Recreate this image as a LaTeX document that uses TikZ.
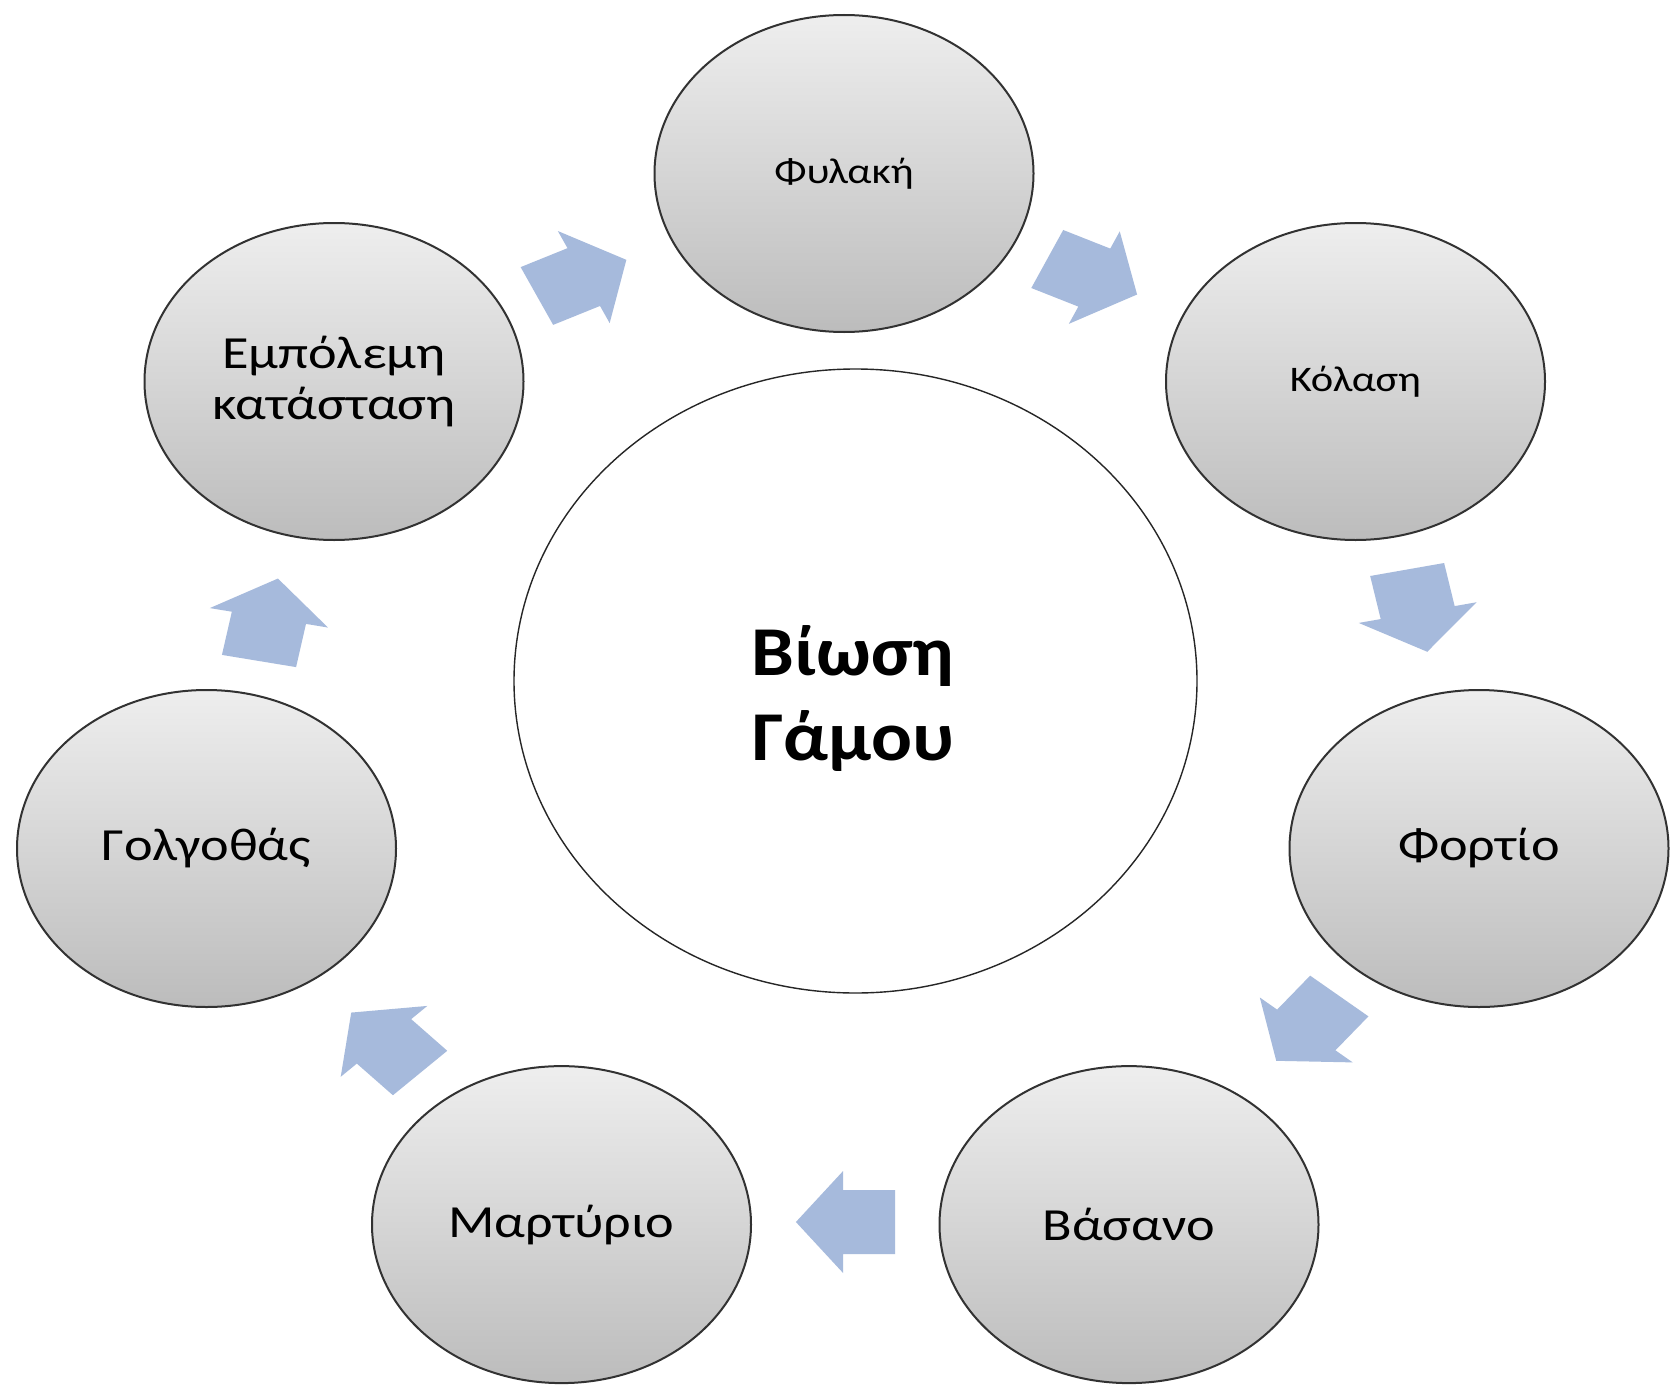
\documentclass[tikz,border=0pt]{standalone}
\usepackage{fontspec}
\setmainfont{Carlito}
\newfontfamily\lblfont[FakeStretch=1.18]{Carlito}
\newfontfamily\ctrfont[FakeStretch=1.09]{Carlito}
\usetikzlibrary{shapes.geometric}
\definecolor{arrowblue}{RGB}{166,186,220}
\definecolor{ringline}{RGB}{50,50,50}
\definecolor{gtop}{RGB}{238,238,238}
\definecolor{gbot}{RGB}{188,188,188}
\begin{document}
\begin{tikzpicture}[x=0.5pt,y=-0.5pt,
  ball/.style={ellipse, draw=ringline, line width=1pt, top color=gtop, bottom color=gbot,
    minimum width=189.5pt, minimum height=158.5pt, inner sep=0pt, align=center,
    font=\lblfont\fontsize{23}{25.5}\selectfont},
  smallball/.style={ball, font=\lblfont\fontsize{18}{21}\selectfont},
  hub/.style={ellipse, draw=black!85, line width=0.7pt, fill=white,
    minimum width=341.5pt, minimum height=312pt, inner sep=0pt},
  hubtext/.style={inner sep=0pt, align=center,
    font=\ctrfont\bfseries\fontsize{35}{42.5}\selectfont},
  blockarrow/.style={fill=arrowblue}]
\fill[white] (0,0) rectangle (1670,1386);
\useasboundingbox (0,0) rectangle (1670,1386);

% block arrows (drawn in unstretched frame, then stretched horizontally)
\begin{scope}[xscale=1.18]
  \foreach \bx/\by/\ang in {455/296/25.5, 887.5/259/-25, 1192.5/569.5/-78.3,
      1135/996/-129.5, 758.5/1222/-180, 356/1073/-226, 219.5/661/79}{
    \fill[blockarrow, shift={(\bx,\by)}, rotate=\ang]
      (0,-32) -- (44,-32) -- (44,-51) -- (84,0) -- (44,51) -- (44,32) -- (0,32) -- cycle;
  }
\end{scope}

\node[hub] (hub) at (855.5,681) {};
\node[hubtext] (hublabel) at (853,699) {Βίωση\\Γάμου};
\node[smallball] (fyl) at (844,173.5) {Φυλακή};
\node[smallball] (kol) at (1355.5,381.5) {Κόλαση};
\node[ball] (for) at (1479,848.5) {Φορτίο};
\node[ball] (vas) at (1129,1224.6) {Βάσανο};
\node[ball] (mar) at (561.5,1224.6) {Μαρτύριο};
\node[ball] (gol) at (206.5,848.5) {Γολγοθάς};
\node[ball] (emp) at (334,381.5) {Εμπόλεμη\\κατάσταση};
\end{tikzpicture}
\end{document}
